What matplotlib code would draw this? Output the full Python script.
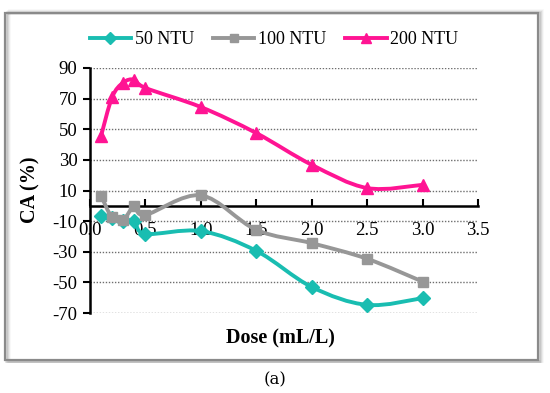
import matplotlib
matplotlib.use("Agg")
import matplotlib.pyplot as plt
from matplotlib.path import Path
from matplotlib.patches import PathPatch, Rectangle
from matplotlib.lines import Line2D
import numpy as np

# ---- data ----
dose = [0.1, 0.2, 0.3, 0.4, 0.5, 1.0, 1.5, 2.0, 2.5, 3.0]
ntu50 = [-6.5, -8, -9.6, -10, -18.3, -16.5, -29.4, -53, -64.7, -60.3]
ntu100 = [6.5, -7.6, -9, -0.4, -5.9, 6.8, -15.7, -24.4, -34.6, -49.5]
ntu200 = [45.7, 71, 80.5, 82.4, 77, 64.5, 47.5, 26.8, 11.6, 13.7]
series_names = ["50 NTU", "100 NTU", "200 NTU"]
x_ticks = [0.0, 0.5, 1.0, 1.5, 2.0, 2.5, 3.0, 3.5]
y_ticks = [-70, -50, -30, -10, 10, 30, 50, 70, 90]

colors = ["#19BDB1", "#979797", "#FF1493"]
markers = ["D", "s", "^"]
msizes = [7.5, 7.5, 9]

plt.rcParams["font.family"] = ["Liberation Serif", "DejaVu Serif"]

fig = plt.figure(figsize=(5.5, 3.93), dpi=100)
W, H = 550, 393

# frame box with shadow
for k, a in enumerate([0.12, 0.08, 0.05, 0.03]):
    fig.patches.append(Rectangle(((5 + k + 1) / W, 1 - (360 + 1) / H),
                                 (533) / W, (347 + k + 1) / H,
                                 transform=fig.transFigure, fill=False,
                                 edgecolor="black", alpha=a, lw=2))
fig.patches.append(Rectangle((5 / W, 1 - 360 / H), 533 / W, 347 / H,
                             transform=fig.transFigure, fill=False,
                             edgecolor="#8a8a8a", lw=1.6, zorder=5))

ax = fig.add_axes([90 / W, 1 - 313 / H, (478 - 90) / W, (313 - 68) / H])


def smooth_path(xs, ys):
    pts = np.column_stack([xs, ys]).astype(float)
    n = len(pts)
    verts = [pts[0]]
    codes = [Path.MOVETO]
    for i in range(n - 1):
        p0 = pts[i - 1] if i > 0 else pts[i]
        p1 = pts[i]
        p2 = pts[i + 1]
        p3 = pts[i + 2] if i + 2 < n else pts[i + 1]
        c1 = p1 + (p2 - p0) / 6.0
        c2 = p2 - (p3 - p1) / 6.0
        verts += [c1, c2, p2]
        codes += [Path.CURVE4] * 3
    return Path(verts, codes)


handles = []
for vals, c, m, ms, name in zip([ntu50, ntu100, ntu200], colors, markers, msizes, series_names):
    ax.add_patch(PathPatch(smooth_path(dose, vals), fill=False, edgecolor=c,
                           lw=2.8, zorder=3, capstyle="round", joinstyle="round"))
    ax.plot(dose, vals, linestyle="none", marker=m, markersize=ms, color=c,
            markeredgecolor=c, zorder=4, clip_on=False)
    handles.append(Line2D([], [], color=c, lw=2.8, marker=m, markersize=ms * 0.85,
                          label=name))

ax.set_xlim(0, 3.5)
ax.set_ylim(-70, 90)
ax.set_xticks(x_ticks)
ax.set_xticklabels([f"{v:.1f}" for v in x_ticks])
ax.set_yticks(y_ticks)
ax.set_yticklabels([str(v) for v in y_ticks])

ax.spines["top"].set_visible(False)
ax.spines["right"].set_visible(False)
ax.spines["left"].set_linewidth(1.8)
ax.spines["bottom"].set_linewidth(1.8)
ax.spines["bottom"].set_position(("data", 0))
ax.tick_params(axis="x", direction="in", length=5, width=1.5, pad=12, labelsize=13.5)
ax.tick_params(axis="y", direction="out", length=5, width=1.5, pad=4, labelsize=13.5)
ax.yaxis.grid(True, linestyle=(0, (1, 1.2)), color="#6e6e6e", lw=1.0)
ax.set_axisbelow(True)

fig.text(30 / W, 1 - 190 / H, "CA (%)", rotation=90, fontsize=14.5, fontweight="bold",
         ha="center", va="center")
fig.text(280 / W, 1 - 338 / H, "Dose (mL/L)", fontsize=14.5, fontweight="bold",
         ha="center", va="center")
fig.text(275 / W, 1 - 380 / H, "(a)", fontsize=12, ha="center", va="center",
         family=["DejaVu Serif"])

fig.legend(handles=handles, loc="center", bbox_to_anchor=(274 / W, 1 - 40 / H),
           ncol=3, frameon=False, fontsize=13, handlelength=2.3, handletextpad=0.2,
           columnspacing=1.05)

fig.savefig("out.png", dpi=100)
